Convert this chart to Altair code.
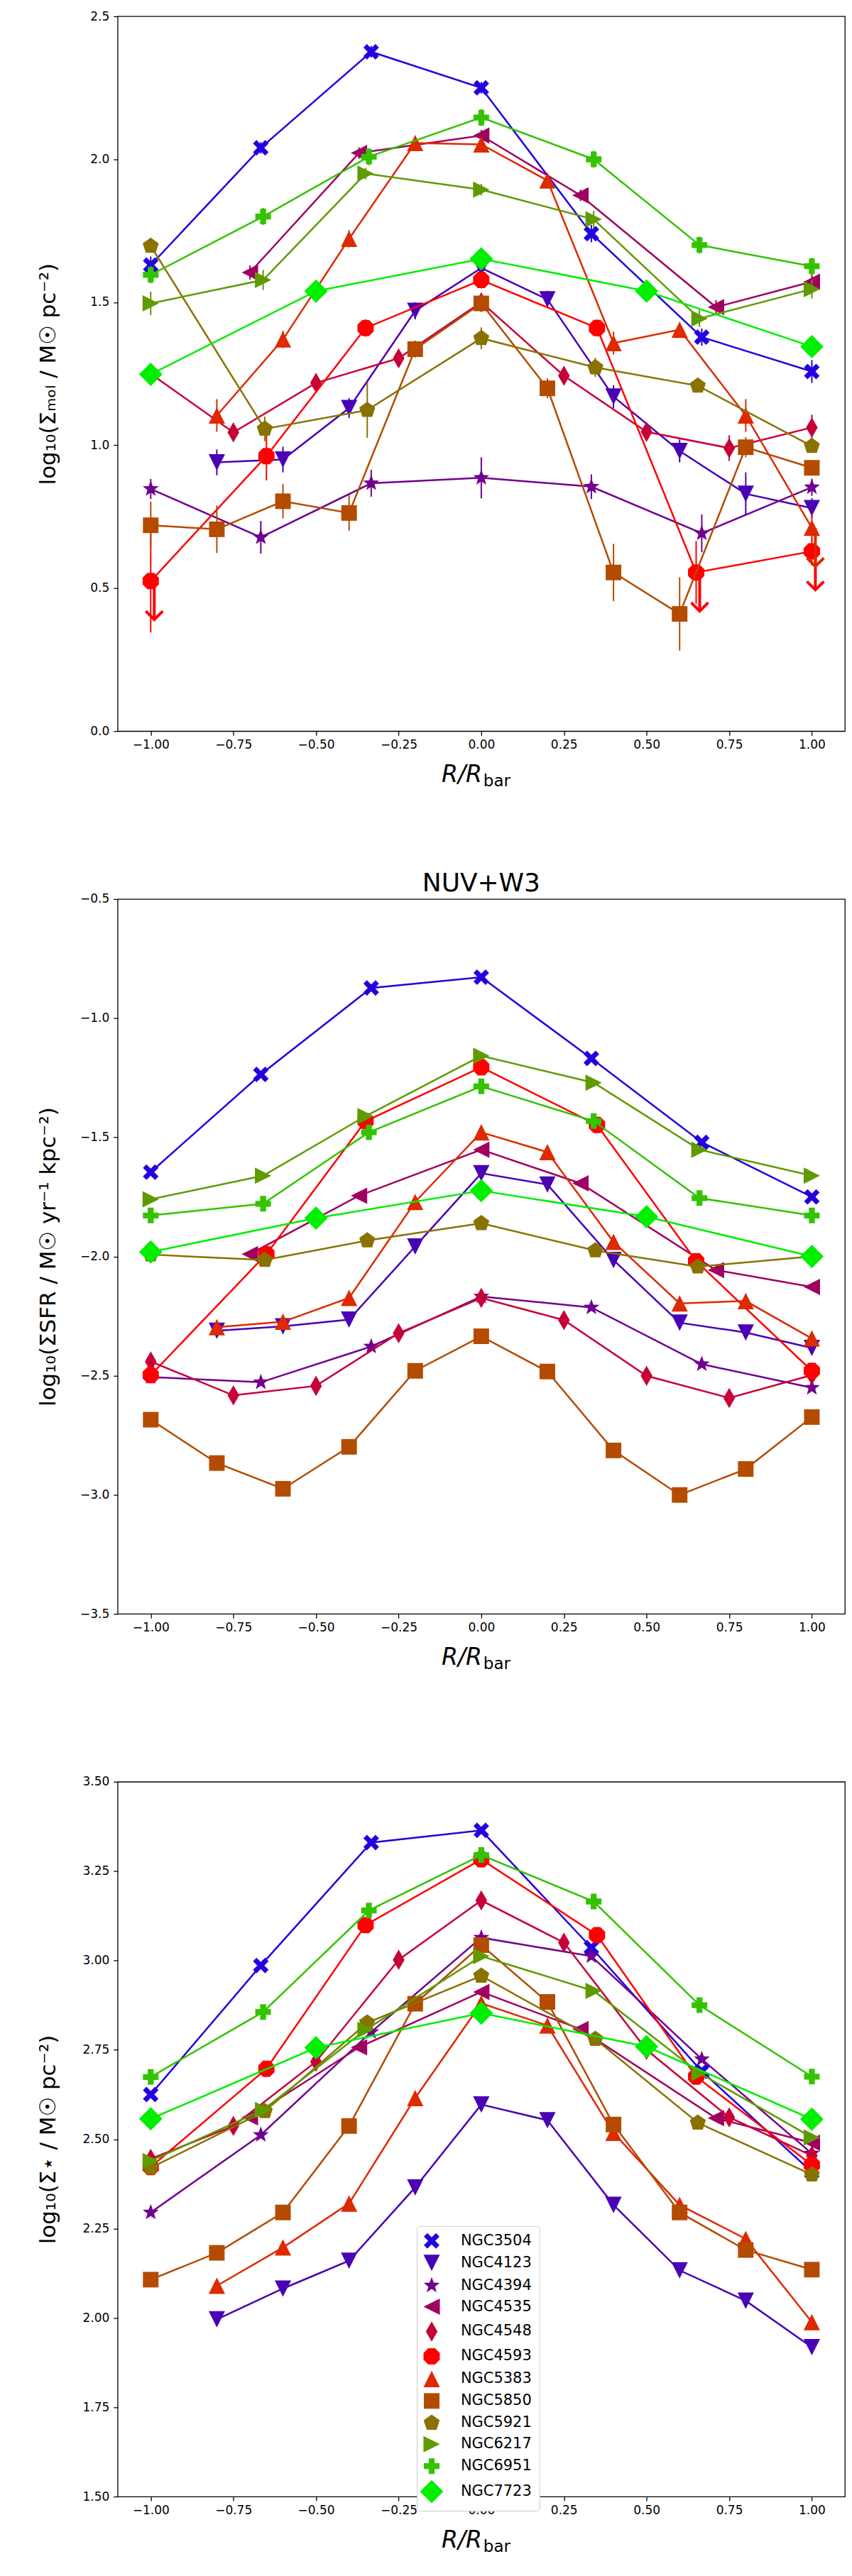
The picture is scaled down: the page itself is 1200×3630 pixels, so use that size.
import math
import altair as alt
import pandas as pd

GALAXIES = ["NGC3504", "NGC4123", "NGC4394", "NGC4535", "NGC4548", "NGC4593",
            "NGC5383", "NGC5850", "NGC5921", "NGC6217", "NGC6951", "NGC7723"]
COLORS = ["#2200e0", "#4a00b5", "#70008f", "#a00060", "#c80038", "#ff0000",
          "#dd2a00", "#b44b00", "#8a7200", "#5f9b00", "#33c300", "#00ee00"]

# radial positions R/Rbar of each galaxy
X_NGC3504 = [-1.0, -0.667, -0.333, 0.0, 0.333, 0.667, 1.0]
X_NGC4123 = [-0.8, -0.6, -0.4, -0.2, 0.0, 0.2, 0.4, 0.6, 0.8, 1.0]
X_NGC4394 = [-1.0, -0.667, -0.333, 0.0, 0.333, 0.667, 1.0]
X_NGC4535 = [-0.70, -0.37, 0.0, 0.30, 0.71, 1.0]
X_NGC4548 = [-1.0, -0.75, -0.5, -0.25, 0.0, 0.25, 0.5, 0.75, 1.0]
X_NGC4593 = [-1.0, -0.65, -0.35, 0.0, 0.35, 0.65, 1.0]
X_NGC5383 = [-0.8, -0.6, -0.4, -0.2, 0.0, 0.2, 0.4, 0.6, 0.8, 1.0]
X_NGC5850 = [-1.0, -0.8, -0.6, -0.4, -0.2, 0.0, 0.2, 0.4, 0.6, 0.8, 1.0]
X_NGC5921 = [-1.0, -0.655, -0.345, 0.0, 0.345, 0.655, 1.0]
X_NGC6217 = [-1.0, -0.66, -0.35, 0.0, 0.34, 0.66, 1.0]
X_NGC6951 = [-1.0, -0.66, -0.34, 0.0, 0.34, 0.66, 1.0]
X_NGC7723 = [-1.0, -0.5, 0.0, 0.5, 1.0]

# panel 1: log10 Sigma_mol
MOL_NGC3504 = [1.63, 2.04, 2.376, 2.25, 1.74, 1.378, 1.258]
MOL_NGC4123 = [0.94, 0.95, 1.13, 1.47, 1.62, 1.51, 1.17, 0.98, 0.83, 0.78]
MOL_NGC4394 = [0.847, 0.678, 0.867, 0.886, 0.855, 0.692, 0.853]
MOL_NGC4535 = [1.604, 2.022, 2.083, 1.874, 1.483, 1.572]
MOL_NGC4548 = [1.25, 1.045, 1.218, 1.304, 1.50, 1.243, 1.047, 0.99, 1.062]
MOL_NGC4593 = [0.525, 0.962, 1.41, 1.578, 1.41, 0.555, 0.629]
MOL_NGC5383 = [1.104, 1.37, 1.722, 2.057, 2.052, 1.926, 1.357, 1.404, 1.104, 0.711]
MOL_NGC5850 = [0.72, 0.706, 0.804, 0.763, 1.336, 1.496, 1.199, 0.555, 0.41, 0.993, 0.921]
MOL_NGC5921 = [1.697, 1.057, 1.123, 1.374, 1.272, 1.208, 0.997]
MOL_NGC6217 = [1.496, 1.578, 1.95, 1.894, 1.79, 1.443, 1.546]
MOL_NGC6951 = [1.596, 1.80, 2.009, 2.146, 2.0, 1.70, 1.626]
MOL_NGC7723 = [1.248, 1.539, 1.652, 1.539, 1.345]

# panel 1 errors (half length)
ERR_NGC3504 = [0.03, 0.02, 0.02, 0.02, 0.03, 0.03, 0.04]
ERR_NGC4123 = [0.045, 0.045, 0.035, 0.03, 0.02, 0.03, 0.04, 0.04, 0.075, 0.035]
ERR_NGC4394 = [0.035, 0.057, 0.047, 0.072, 0.043, 0.066, 0.03]
ERR_NGC4535 = [0.025, 0.02, 0.02, 0.02, 0.025, 0.03]
ERR_NGC4548 = [0.02, 0.03, 0.03, 0.03, 0.02, 0.03, 0.03, 0.045, 0.045]
ERR_NGC4593 = [0.18, 0.085, 0.03, 0.03, 0.03, 0.11, 0.05]
ERR_NGC5383 = [0.057, 0.03, 0.03, 0.02, 0.02, 0.02, 0.04, 0.02, 0.057, 0.05]
ERR_NGC5850 = [0.083, 0.083, 0.06, 0.062, 0.03, 0.03, 0.035, 0.1, 0.128, 0.035, 0.02]
ERR_NGC5921 = [0.02, 0.043, 0.097, 0.038, 0.033, 0.02, 0.02]
ERR_NGC6217 = [0.041, 0.035, 0.02, 0.02, 0.03, 0.03, 0.033]
ERR_NGC6951 = [0.03, 0.03, 0.03, 0.03, 0.03, 0.03, 0.03]
ERR_NGC7723 = [0.02, 0.02, 0.02, 0.02, 0.02]

# panel 1 upper limits
UL_GALAXY = ["NGC4593", "NGC4593", "NGC4593", "NGC5383"]
UL_X = [-1.0, 0.65, 1.0, 1.0]
UL_Y = [0.525, 0.555, 0.629, 0.711]

# panel 2: log10 Sigma_SFR (NUV+W3)
SFR_NGC3504 = [-1.646, -1.236, -0.873, -0.828, -1.169, -1.521, -1.75]
SFR_NGC4123 = [-2.312, -2.293, -2.265, -1.958, -1.651, -1.698, -2.015, -2.278, -2.319, -2.384]
SFR_NGC4394 = [-2.506, -2.528, -2.378, -2.168, -2.214, -2.452, -2.551]
SFR_NGC4535 = [-1.99, -1.745, -1.552, -1.693, -2.057, -2.128]
SFR_NGC4548 = [-2.441, -2.583, -2.543, -2.322, -2.174, -2.267, -2.501, -2.594, -2.498]
SFR_NGC4593 = [-2.498, -1.99, -1.432, -1.206, -1.448, -2.02, -2.48]
SFR_NGC5383 = [-2.297, -2.274, -2.174, -1.771, -1.479, -1.562, -1.939, -2.197, -2.187, -2.344]
SFR_NGC5850 = [-2.685, -2.867, -2.975, -2.799, -2.48, -2.335, -2.483, -2.814, -3.001, -2.892, -2.674]
SFR_NGC5921 = [-1.992, -2.015, -1.933, -1.861, -1.975, -2.043, -2.0]
SFR_NGC6217 = [-1.76, -1.661, -1.411, -1.158, -1.271, -1.552, -1.661]
SFR_NGC6951 = [-1.828, -1.779, -1.479, -1.286, -1.432, -1.755, -1.828]
SFR_NGC7723 = [-1.981, -1.839, -1.724, -1.833, -2.0]

# panel 3: log10 Sigma_star
STAR_NGC3504 = [2.625, 2.986, 3.33, 3.364, 3.036, 2.69, 2.408]
STAR_NGC4123 = [1.996, 2.082, 2.16, 2.365, 2.597, 2.553, 2.316, 2.133, 2.048, 1.918]
STAR_NGC4394 = [2.295, 2.512, 2.80, 3.064, 3.012, 2.724, 2.46]
STAR_NGC4535 = [2.561, 2.757, 2.912, 2.808, 2.559, 2.49]
STAR_NGC4548 = [2.445, 2.537, 2.717, 3.002, 3.168, 3.05, 2.75, 2.561, 2.454]
STAR_NGC4593 = [2.422, 2.697, 3.099, 3.283, 3.071, 2.675, 2.428]
STAR_NGC5383 = [2.09, 2.197, 2.32, 2.615, 2.88, 2.818, 2.518, 2.316, 2.221, 1.988]
STAR_NGC5850 = [2.107, 2.182, 2.295, 2.537, 2.879, 3.043, 2.884, 2.541, 2.295, 2.19, 2.135]
STAR_NGC5921 = [2.42, 2.578, 2.826, 2.957, 2.78, 2.546, 2.401]
STAR_NGC6217 = [2.439, 2.582, 2.806, 3.012, 2.915, 2.685, 2.505]
STAR_NGC6951 = [2.674, 2.856, 3.14, 3.295, 3.165, 2.875, 2.675]
STAR_NGC7723 = [2.557, 2.756, 2.853, 2.759, 2.556]

X_TICKS = [-1.0, -0.75, -0.5, -0.25, 0.0, 0.25, 0.5, 0.75, 1.0]
MOL_TICKS = [0.0, 0.5, 1.0, 1.5, 2.0, 2.5]
SFR_TICKS = [-3.5, -3.0, -2.5, -2.0, -1.5, -1.0, -0.5]
STAR_TICKS = [1.5, 1.75, 2.0, 2.25, 2.5, 2.75, 3.0, 3.25, 3.5]

X_LISTS = [X_NGC3504, X_NGC4123, X_NGC4394, X_NGC4535, X_NGC4548, X_NGC4593,
           X_NGC5383, X_NGC5850, X_NGC5921, X_NGC6217, X_NGC6951, X_NGC7723]
MOL_LISTS = [MOL_NGC3504, MOL_NGC4123, MOL_NGC4394, MOL_NGC4535, MOL_NGC4548, MOL_NGC4593,
             MOL_NGC5383, MOL_NGC5850, MOL_NGC5921, MOL_NGC6217, MOL_NGC6951, MOL_NGC7723]
ERR_LISTS = [ERR_NGC3504, ERR_NGC4123, ERR_NGC4394, ERR_NGC4535, ERR_NGC4548, ERR_NGC4593,
             ERR_NGC5383, ERR_NGC5850, ERR_NGC5921, ERR_NGC6217, ERR_NGC6951, ERR_NGC7723]
SFR_LISTS = [SFR_NGC3504, SFR_NGC4123, SFR_NGC4394, SFR_NGC4535, SFR_NGC4548, SFR_NGC4593,
             SFR_NGC5383, SFR_NGC5850, SFR_NGC5921, SFR_NGC6217, SFR_NGC6951, SFR_NGC7723]
STAR_LISTS = [STAR_NGC3504, STAR_NGC4123, STAR_NGC4394, STAR_NGC4535, STAR_NGC4548, STAR_NGC4593,
              STAR_NGC5383, STAR_NGC5850, STAR_NGC5921, STAR_NGC6217, STAR_NGC6951, STAR_NGC7723]


# ---------- marker shapes (paths in the -1..1 symbol box) ----------
def poly(pts):
    return "M" + "L".join(f"{x:.3f},{y:.3f}" for x, y in pts) + "Z"


def regular(n, r, start_deg):
    return [(r * math.cos(math.radians(start_deg + 360.0 * k / n)),
             r * math.sin(math.radians(start_deg + 360.0 * k / n))) for k in range(n)]


def star(r_out, r_in):
    pts = []
    for k in range(10):
        rr = r_out if k % 2 == 0 else r_in
        a = math.radians(-90 + 36 * k)
        pts.append((rr * math.cos(a), rr * math.sin(a)))
    return pts


S_X = poly([(-1, -0.55), (-0.55, -1), (0, -0.45), (0.55, -1), (1, -0.55), (0.45, 0),
            (1, 0.55), (0.55, 1), (0, 0.45), (-0.55, 1), (-1, 0.55), (-0.45, 0)])
S_TDOWN = poly([(-1.05, -1.05), (1.05, -1.05), (0, 1.05)])
S_STAR = poly(star(1.08, 0.45))
S_TLEFT = poly([(-1.05, 0), (1.05, -1.05), (1.05, 1.05)])
S_THIN = poly([(0, -1.3), (0.75, 0), (0, 1.3), (-0.75, 0)])
S_OCT = poly(regular(8, 1.13, 22.5))
S_TUP = poly([(0, -1.05), (1.05, 1.05), (-1.05, 1.05)])
S_SQUARE = poly([(-1, -1), (1, -1), (1, 1), (-1, 1)])
S_PENT = poly(regular(5, 1.08, -90))
S_TRIGHT = poly([(1.05, 0), (-1.05, -1.05), (-1.05, 1.05)])
w = 0.38
S_PLUS = poly([(-1, -w), (-w, -w), (-w, -1), (w, -1), (w, -w), (1, -w), (1, w), (w, w),
               (w, 1), (-w, 1), (-w, w), (-1, w)])
S_DIAM = poly([(0, -1.5), (1.5, 0), (0, 1.5), (-1.5, 0)])
SHAPES = [S_X, S_TDOWN, S_STAR, S_TLEFT, S_THIN, S_OCT, S_TUP, S_SQUARE, S_PENT,
          S_TRIGHT, S_PLUS, S_DIAM]
CHEVRON = "M-1,-1L0,0L1,-1"

W = 1026
H = 1009
FONT = "DejaVu Sans"


def long_df(vals, errs=None):
    rows = []
    for i, g in enumerate(GALAXIES):
        for j, (xv, yv) in enumerate(zip(X_LISTS[i], vals[i])):
            r = {"galaxy": g, "x": xv, "y": yv, "idx": j}
            if errs is not None:
                e = errs[i][j]
                r["lo"] = yv - e
                r["hi"] = yv + e
            rows.append(r)
    return pd.DataFrame(rows)


cscale = alt.Scale(domain=GALAXIES, range=COLORS)
sscale = alt.Scale(domain=GALAXIES, range=SHAPES)
xscale = alt.Scale(domain=[-1.1, 1.1], nice=False, zero=False)
xaxis = alt.Axis(values=X_TICKS, format=".2f", title=None, grid=False, domain=False,
                 tickSize=6, tickWidth=1.3, tickColor="black", labelFontSize=17,
                 labelFont=FONT, labelColor="black", labelPadding=5, labelFlush=False,
                 labelOverlap=False)


def make_panel(df, ydomain, yticks, yfmt, ytitle, title=None, with_err=False,
               ul_df=None, legend=False):
    yscale = alt.Scale(domain=ydomain, nice=False, zero=False)
    yaxis = alt.Axis(values=yticks, format=yfmt, title=ytitle, titleX=-97, titleY=H / 2,
                     titleAngle=270, titleAlign="center", titleBaseline="middle",
                     titleFontSize=31, titleFont=FONT, titleFontWeight="normal",
                     titleColor="black", grid=False, domain=False,
                     tickSize=6, tickWidth=1.3, tickColor="black", labelFontSize=17,
                     labelFont=FONT, labelColor="black", labelPadding=6, labelFlush=False,
                     labelOverlap=False)
    xenc = alt.X("x:Q", scale=xscale, axis=xaxis)
    yenc = alt.Y("y:Q", scale=yscale, axis=yaxis)
    if legend:
        leg = alt.Legend(title=None, orient="none", legendX=422, legendY=627,
                         labelFontSize=21, labelFont=FONT, labelColor="black",
                         symbolSize=484, symbolStrokeWidth=0, padding=10,
                         rowPadding=8, labelOffset=30, strokeColor="#cccccc",
                         fillColor="white", cornerRadius=4, labelLimit=300)
    else:
        leg = None
    layers = []
    for i, g in enumerate(GALAXIES):
        base = alt.Chart(df).transform_filter(alt.datum.galaxy == g)
        layers.append(base.mark_line(strokeWidth=2.5, color=COLORS[i]).encode(x=xenc, y=yenc))
        if with_err:
            layers.append(base.mark_rule(strokeWidth=2, color=COLORS[i]).encode(
                x=xenc, y=alt.Y("lo:Q", scale=yscale, axis=yaxis), y2="hi:Q"))
        layers.append(base.mark_point(filled=True, size=484, opacity=1, strokeWidth=0).encode(
            x=xenc, y=yenc,
            color=alt.Color("galaxy:N", scale=cscale, legend=leg),
            shape=alt.Shape("galaxy:N", scale=sscale, legend=leg)))
    if ul_df is not None:
        ub = alt.Chart(ul_df).transform_calculate(tip="datum.y - 0.135")
        layers.append(ub.mark_rule(strokeWidth=4, xOffset=5).encode(
            x=xenc, y=alt.Y("y:Q", scale=yscale, axis=yaxis), y2="tip:Q",
            color=alt.Color("galaxy:N", scale=cscale, legend=None)))
        layers.append(ub.mark_point(shape=CHEVRON, filled=False, strokeWidth=4, size=576,
                                    xOffset=5, opacity=1).encode(
            x=xenc, y=alt.Y("tip:Q", scale=yscale, axis=yaxis),
            color=alt.Color("galaxy:N", scale=cscale, legend=None)))
    t1 = alt.Chart(pd.DataFrame({"t": ["R/R"]})).mark_text(
        align="right", baseline="alphabetic", font=FONT, fontSize=33, fontStyle="italic",
        color="black").encode(text="t:N", x=alt.value(W / 2 + 1), y=alt.value(H + 72))
    t2 = alt.Chart(pd.DataFrame({"t": ["bar"]})).mark_text(
        align="left", baseline="alphabetic", font=FONT, fontSize=23,
        color="black").encode(text="t:N", x=alt.value(W / 2 + 3), y=alt.value(H + 78))
    layers += [t1, t2]
    props = dict(width=W, height=H)
    if title is not None:
        props["title"] = alt.TitleParams(title, fontSize=36, font=FONT, fontWeight="normal",
                                         color="black", offset=-6, anchor="middle")
    return alt.layer(*layers).properties(**props)


df_mol = long_df(MOL_LISTS, ERR_LISTS)
df_sfr = long_df(SFR_LISTS)
df_star = long_df(STAR_LISTS)
df_ul = pd.DataFrame({"galaxy": UL_GALAXY, "x": UL_X, "y": UL_Y})

p1 = make_panel(df_mol, [0, 2.5], MOL_TICKS, ".1f",
                "log\u2081\u2080(\u03a3\u2098\u2092\u2097 / M\u2609 pc\u207b\u00b2)",
                with_err=True, ul_df=df_ul)
p2 = make_panel(df_sfr, [-3.5, -0.5], SFR_TICKS, ".1f",
                "log\u2081\u2080(\u03a3SFR / M\u2609 yr\u207b\u00b9 kpc\u207b\u00b2)",
                title="NUV+W3")
p3 = make_panel(df_star, [1.5, 3.5], STAR_TICKS, ".2f",
                "log\u2081\u2080(\u03a3\u22c6 / M\u2609 pc\u207b\u00b2)",
                title=" ", legend=True)

chart = alt.vconcat(p1, p2, p3, spacing=112).resolve_scale(
    color="independent", shape="independent"
).properties(
    padding={"left": 44, "top": 2, "right": 1, "bottom": 0},
    background="white"
).configure_view(
    stroke="black", strokeWidth=1.3
).configure_axis(
    domain=False, grid=False
)

chart.save("out.html", embed_options={"renderer": "svg", "actions": False})
